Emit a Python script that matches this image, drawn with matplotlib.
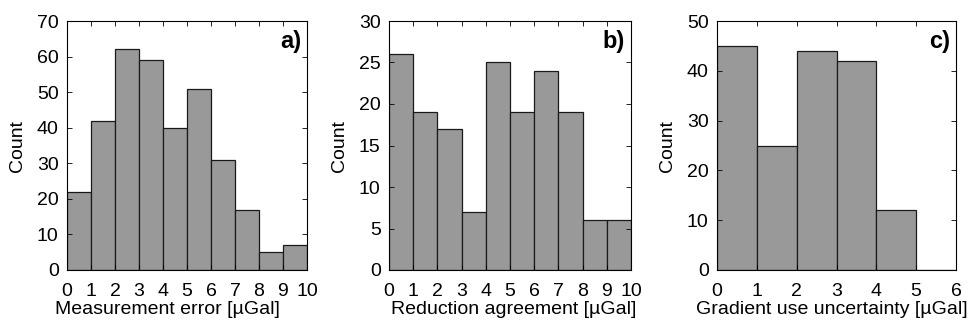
import matplotlib
matplotlib.use("Agg")
import matplotlib.pyplot as plt

# histogram counts
edges_a = [0, 1, 2, 3, 4, 5, 6, 7, 8, 9, 10]
counts_a = [22, 42, 62, 59, 40, 51, 31, 17, 5, 7]
edges_b = [0, 1, 2, 3, 4, 5, 6, 7, 8, 9, 10]
counts_b = [26, 19, 17, 7, 25, 19, 24, 19, 6, 6]
edges_c = [0, 1, 2, 3, 4, 5, 6]
counts_c = [45, 25, 44, 42, 12, 0]

panels = [
    (edges_a, counts_a, 70, 10, "Measurement error [µGal]", "a)"),
    (edges_b, counts_b, 30, 5, "Reduction agreement [µGal]", "b)"),
    (edges_c, counts_c, 50, 10, "Gradient use uncertainty [µGal]", "c)"),
]

plt.rcParams['font.family'] = ['Liberation Sans', 'DejaVu Sans']
plt.rcParams['font.size'] = 14

fig = plt.figure(figsize=(9.73, 3.26), dpi=100)
W, H = 973, 326
boxes = [(67, 307), (389, 631), (717, 956)]
label_x = [0.42, 0.515, 0.48]   # x-label centres (axes fraction), as in the original
top, bottom = 21, 270

for (x0, x1), lx, (edges, counts, ymax, ystep, xlabel, tag) in zip(boxes, label_x, panels):
    ax = fig.add_axes([x0 / W, 1 - bottom / H, (x1 - x0) / W, (bottom - top) / H])
    ax.bar(edges[:-1], counts, width=1, align='edge', color='#999999',
           edgecolor='#1a1a1a', linewidth=0.9)
    ax.set_xlim(edges[0], edges[-1])
    ax.set_ylim(0, ymax)
    ax.set_xticks(edges)
    ax.set_yticks(range(0, ymax + 1, ystep))
    ax.tick_params(direction='in', top=True, right=True, length=3.5, width=0.6,
                   labelsize=14)
    ax.tick_params(axis='y', pad=6)
    ax.tick_params(axis='x', pad=9)
    for s in ax.spines.values():
        s.set_linewidth(0.8)
    ax.set_xlabel(xlabel, fontsize=14)
    ax.xaxis.set_label_coords(lx, -0.125, transform=ax.transAxes)
    ax.xaxis.label.set_va('top')
    ax.set_ylabel("Count", fontsize=14, labelpad=8)
    ax.text(0.975, 0.965, tag, transform=ax.transAxes, ha='right', va='top',
            fontsize=17, fontweight='bold')

fig.savefig("out.png", dpi=100)
